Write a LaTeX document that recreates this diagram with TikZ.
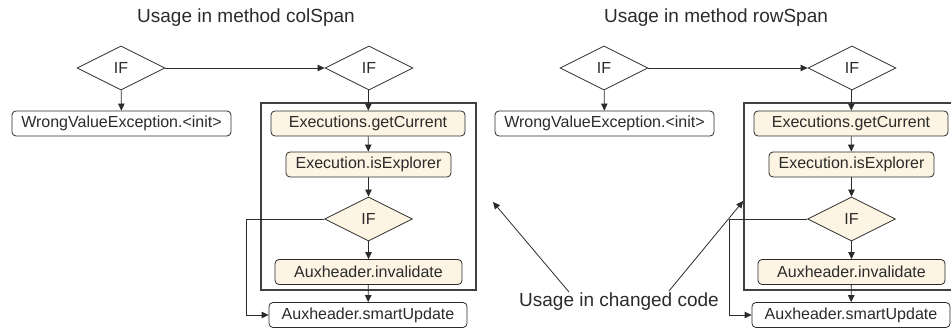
\documentclass[tikz,border=0pt]{standalone}
\usepackage{fontspec}
\setmainfont{Liberation Sans}
\usetikzlibrary{shapes.geometric,arrows.meta}
\definecolor{cream}{HTML}{FDF4E3}
\definecolor{ink}{HTML}{2B2B2B}
\tikzset{
  ln/.style={draw=ink, line width=0.8pt},
  arr/.style={ln, -{Triangle[length=7pt,width=6.5pt]}},
  txt/.style={font=\fontsize{16}{18}\selectfont, text=ink},
  plainbox/.style={txt, draw=ink, rounded corners=4pt, minimum height=25pt, inner sep=0pt, line width=0.8pt, fill=white},
  hibox/.style={plainbox, fill=cream},
  dec/.style={txt, diamond, draw=ink, line width=0.8pt, minimum width=88pt, minimum height=44pt, inner sep=0pt, fill=white},
  hidec/.style={dec, fill=cream},
  region/.style={draw=black!75, line width=1.5pt, inner sep=0pt},
  title/.style={txt, font=\fontsize{19}{22}\selectfont}
}
\newcommand\drawpanel[2]{%
\begin{scope}[xshift=#2pt]
  \node[region, minimum width=215pt, minimum height=187pt] (#1reg) at (368.5,196.5) {};
  \node[dec] (#1ifa) at (121,68) {IF};
  \node[dec] (#1ifb) at (369,68) {IF};
  \node[plainbox, minimum width=219pt] (#1wve) at (121.5,123.5) {WrongValueException.<init>};
  \node[hibox, minimum width=194pt] (#1get) at (368,123.5) {Executions.getCurrent};
  \node[hibox, minimum width=165pt] (#1exp) at (368.5,164.5) {Execution.isExplorer};
  \node[hidec] (#1ifc) at (368.5,219) {IF};
  \node[hibox, minimum width=187pt] (#1inv) at (368.5,272) {Auxheader.invalidate};
  \node[plainbox, minimum width=198pt] (#1smu) at (368,315) {Auxheader.smartUpdate};
  \coordinate (#1loop) at (246,219);
  \draw[arr] (#1ifa) -- (#1ifb);
  \draw[arr] (#1ifa) -- (#1wve);
  \draw[arr] (#1ifb) -- (#1get);
  \draw[arr] (#1get) -- (#1exp);
  \draw[arr] (#1exp) -- (#1ifc);
  \draw[arr] (#1ifc) -- (#1inv);
  \draw[arr] (#1inv) -- (#1smu);
  \draw[arr] (#1ifc.west) -- (#1loop) |- (#1smu.west);
\end{scope}}
\begin{document}
\begin{tikzpicture}[x=1pt,y=-1pt]
  \clip (0,0) rectangle (951,328);
  \node[title] (t1) at (246,18) {Usage in method colSpan};
  \node[title] (t2) at (716,18) {Usage in method rowSpan};
  \drawpanel{L}{0}
  \drawpanel{R}{483}
  \node[title] (note) at (619,302) {Usage in changed code};
  \coordinate (s1) at (569,292);
  \coordinate (s2) at (669,291);
  \coordinate (e1) at (493,202);
  \coordinate (e2) at (Rreg.west |- 0,201);
  \draw[arr] (s1) -- (e1);
  \draw[arr] (s2) -- (e2);
\end{tikzpicture}
\end{document}
